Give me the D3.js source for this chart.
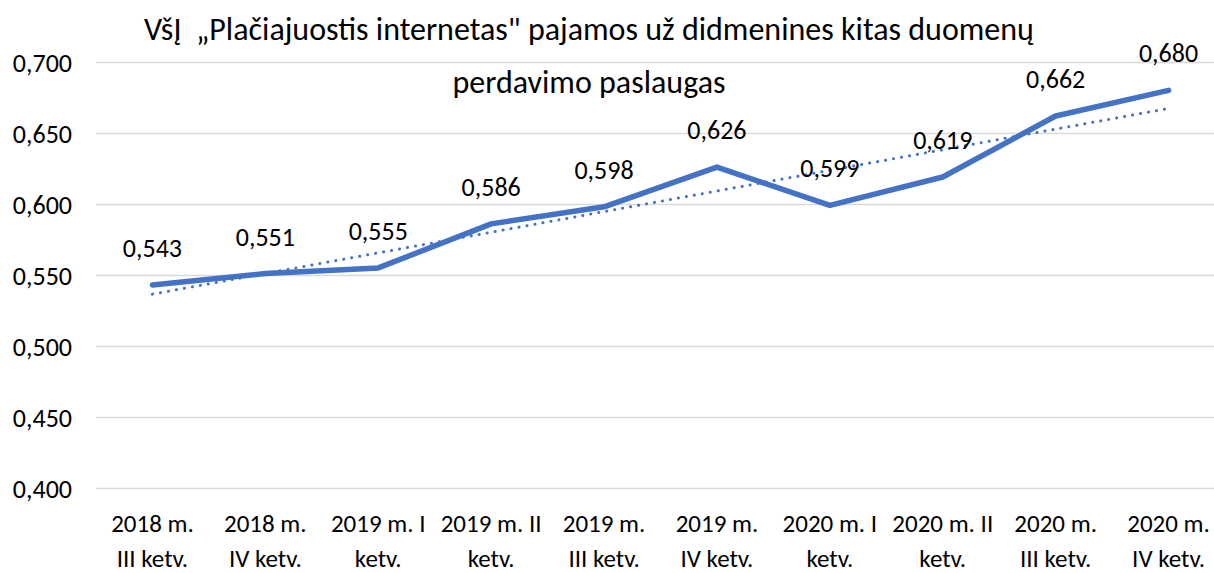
<!DOCTYPE html>
<html>
<head>
<meta charset="utf-8">
<script src="https://cdn.jsdelivr.net/npm/d3@7"></script>
<style>
  body { margin: 0; background: #fff; }
  text { font-family: Carlito, Lato, "Open Sans", sans-serif; fill: #000; }
</style>
</head>
<body>
<div id="chart"></div>
<script>
const TITLE = ["VšĮ\u00A0 „Plačiajuostis internetas\" pajamos už didmenines kitas duomenų", "perdavimo paslaugas"];

const CATEGORIES = [
  ["2018 m.", "III ketv."],
  ["2018 m.", "IV ketv."],
  ["2019 m. I", "ketv."],
  ["2019 m. II", "ketv."],
  ["2019 m.", "III ketv."],
  ["2019 m.", "IV ketv."],
  ["2020 m. I", "ketv."],
  ["2020 m. II", "ketv."],
  ["2020 m.", "III ketv."],
  ["2020 m.", "IV ketv."],
];

const VALUES = [0.543, 0.551, 0.555, 0.586, 0.598, 0.626, 0.599, 0.619, 0.662, 0.68];

const Y_TICKS = [0.4, 0.45, 0.5, 0.55, 0.6, 0.65, 0.7];

const blue = "#4472C4";
const fmt = (v) => d3.format(".3f")(v).replace(".", ",");

const width = 1214, height = 573;
const margin = { top: 62, left: 96, right: -11, bottom: 85 };

const svg = d3.select("#chart").append("svg")
  .attr("width", width)
  .attr("height", height);

const data = VALUES.map((v, i) => ({ i, key: CATEGORIES[i].join(" "), value: v }));

const xScale = d3.scaleBand()
  .domain(data.map((d) => d.key))
  .range([margin.left, width - margin.right]);
const xc = (d) => xScale(d.key) + xScale.bandwidth() / 2;

const yScale = d3.scaleLinear()
  .domain([0.4, 0.7])
  .range([height - margin.bottom, margin.top]);

// gridlines + y labels
const yAxis = d3.axisLeft(yScale)
  .tickValues(Y_TICKS)
  .tickSize(-(width - margin.left + 20))
  .tickFormat(fmt)
  .tickPadding(24);

const gy = svg.append("g")
  .attr("transform", `translate(${margin.left}, 0)`)
  .call(yAxis);
gy.select(".domain").remove();
gy.selectAll(".tick line").attr("stroke", "#d9d9d9").attr("stroke-width", 1.5);
gy.selectAll(".tick text").attr("font-size", 26).attr("dy", "0.35em");

// x labels
const xg = svg.append("g");
xg.selectAll("text")
  .data(data)
  .join("text")
  .attr("x", xc)
  .attr("y", 532)
  .attr("text-anchor", "middle")
  .attr("font-size", 25)
  .selectAll("tspan")
  .data((d) => CATEGORIES[d.i].map((t) => ({ t, x: xc(d) })))
  .join("tspan")
  .attr("x", (t) => t.x)
  .attr("dy", (t, j) => (j === 0 ? 0 : 35))
  .text((t) => t.t);

// linear trendline (least squares over the series)
const n = VALUES.length;
const mx = d3.mean(data, (d) => d.i);
const my = d3.mean(VALUES);
const slope = d3.sum(data, (d) => (d.i - mx) * (d.value - my)) / d3.sum(data, (d) => (d.i - mx) ** 2);
const icpt = my - slope * mx;

const line = d3.line().x((d) => xc(d)).y((d) => yScale(d.value));

svg.append("path")
  .datum([data[0], data[n - 1]].map((d) => ({ ...d, value: icpt + slope * d.i })))
  .attr("d", line)
  .attr("fill", "none")
  .attr("stroke", blue)
  .attr("stroke-width", 3)
  .attr("stroke-linecap", "round")
  .attr("stroke-dasharray", "0.1 8");

svg.append("path")
  .datum(data)
  .attr("d", line)
  .attr("fill", "none")
  .attr("stroke", blue)
  .attr("stroke-width", 5.5)
  .attr("stroke-linejoin", "round")
  .attr("stroke-linecap", "round");

// data labels
svg.append("g").selectAll("text")
  .data(data)
  .join("text")
  .attr("x", xc)
  .attr("y", (d) => yScale(d.value) - 28)
  .attr("text-anchor", "middle")
  .attr("font-size", 26)
  .text((d) => fmt(d.value));

// title
svg.append("g").selectAll("text")
  .data(TITLE)
  .join("text")
  .attr("x", 589)
  .attr("y", (d, i) => 40 + i * 53)
  .attr("text-anchor", "middle")
  .attr("font-size", 32)
  .text((d) => d);
</script>
</body>
</html>
